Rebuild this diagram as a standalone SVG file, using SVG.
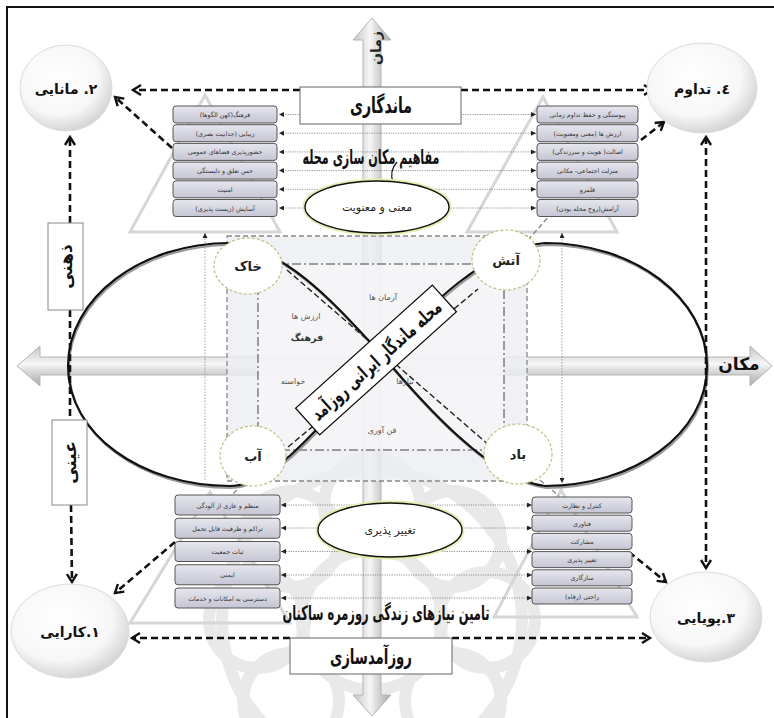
<svg xmlns="http://www.w3.org/2000/svg" width="774" height="718" viewBox="0 0 774 718">
<defs>
<style>
.fa{font-family:"DejaVu Sans",sans-serif;direction:rtl;unicode-bidi:embed;text-anchor:middle}
.bx{fill:url(#boxG);stroke:#555;stroke-width:1}
.bt{font-size:6.3px;fill:#333}
.dot{stroke:#777;stroke-width:0.8;stroke-dasharray:1.2 1.2;fill:none;marker-start:url(#tri);marker-end:url(#tri)}
.thick{stroke:#111;stroke-width:2.6;stroke-dasharray:7 4;fill:none}
.gdash{stroke:#888;stroke-width:1.3;stroke-dasharray:5 3;fill:none}
.elem{fill:#fff;stroke:#b9c47c;stroke-width:1.2;stroke-dasharray:3 2}
.et{font-size:13px;font-weight:bold;fill:#222}
.node{fill:url(#sphere);stroke:#dcdcdc;stroke-width:1}
.nt{font-size:14px;font-weight:bold;fill:#111}
.ct{font-size:8px;fill:#555}
.tri{fill:none;stroke:#d6d6d6;stroke-width:3}
.lobe{fill:none}
</style>
<linearGradient id="hA" x1="0" y1="0" x2="0" y2="1">
<stop offset="0" stop-color="#c4c4c4"/><stop offset="0.45" stop-color="#f6f6f6"/><stop offset="0.6" stop-color="#dedede"/><stop offset="1" stop-color="#a9a9a9"/>
</linearGradient>
<linearGradient id="vA" x1="0" y1="0" x2="1" y2="0">
<stop offset="0" stop-color="#c4c4c4"/><stop offset="0.45" stop-color="#f6f6f6"/><stop offset="0.6" stop-color="#dedede"/><stop offset="1" stop-color="#a9a9a9"/>
</linearGradient>
<radialGradient id="sphere" cx="0.42" cy="0.38" r="0.62">
<stop offset="0" stop-color="#ffffff"/><stop offset="0.7" stop-color="#f7f7f7"/><stop offset="1" stop-color="#d6d6d6"/>
</radialGradient>
<linearGradient id="boxG" x1="0" y1="0" x2="0" y2="1">
<stop offset="0" stop-color="#e6e6ee"/><stop offset="1" stop-color="#c6c6d4"/>
</linearGradient>
<marker id="tri" viewBox="0 0 6 6" refX="6" refY="3" markerWidth="5" markerHeight="5" markerUnits="userSpaceOnUse" orient="auto-start-reverse">
<path d="M0,0 L6,3 L0,6 Z" fill="#222"/>
</marker>
<marker id="chev" viewBox="-2 -2 14 14" refX="8" refY="5" markerWidth="14" markerHeight="14" markerUnits="userSpaceOnUse" orient="auto-start-reverse">
<path d="M0,0 L8,5 L0,10" fill="none" stroke="#111" stroke-width="2.4"/>
</marker>
<path id="eight" d="M383,356 C340,310 290,250 230,243 C141,243 68,298 68,366 C68,434 141,486 230,486 C280,486 340,400 383,356 Z M383,356 C426,310 480,250 545,243 C634,243 707,298 707,366 C707,434 634,486 545,486 C490,480 420,400 383,356 Z"/>
</defs>

<rect x="0" y="0" width="774" height="718" fill="#fff"/>

<g id="watermark" fill="none" stroke="#e9e9e9" stroke-width="12">
<circle cx="372" cy="620" r="150"/>
<circle cx="372" cy="620" r="70"/>
<circle cx="372" cy="505" r="48"/>
<circle cx="453" cy="539" r="48"/>
<circle cx="487" cy="620" r="48"/>
<circle cx="291" cy="539" r="48"/>
<circle cx="257" cy="620" r="48"/>
<circle cx="453" cy="701" r="48"/>
<circle cx="291" cy="701" r="48"/>
</g>

<g id="triangles">
<polygon class="tri" points="205,95 280,232 130,232"/>
<polygon class="tri" points="543,97 617,232 467,232"/>
<polygon class="tri" points="210,492 290,623 130,623"/>
<polygon class="tri" points="561,490 637,617 494,617"/>
</g>

<g id="axes">
<path d="M17,366 L40,346 L40,357 L750,357 L750,346 L772,366 L750,386 L750,375 L40,375 L40,386 Z" fill="url(#hA)" stroke="#b5b5b5" stroke-width="1"/>
<path d="M372,18 L391,40 L381,40 L381,695 L391,695 L372,716 L353,695 L363,695 L363,40 L353,40 Z" fill="url(#vA)" stroke="#b5b5b5" stroke-width="1"/>
<text class="fa" transform="translate(376,48) rotate(-90)" font-size="14" font-weight="bold" fill="#222" y="5">زمان</text>
<text class="fa" x="739" y="370" font-size="17" font-weight="bold" fill="#111">مکان</text>
</g>

<g id="panel">
<rect x="227" y="236" width="300" height="245" fill="#eceef1" opacity="0.8"/>
<rect x="258" y="264" width="246" height="186" fill="#f6f7f8" opacity="0.7"/>
<rect x="227" y="236" width="300" height="245" class="gdash"/>
<rect x="258" y="264" width="246" height="186" fill="none" stroke="#444" stroke-width="1" stroke-dasharray="9 3 2 3"/>
</g>

<g id="connectors">
<line x1="205" y1="480" x2="205" y2="233" stroke="#888" stroke-width="0.8" stroke-dasharray="1.5 1.5" marker-end="url(#tri)"/>
<line x1="562" y1="233" x2="562" y2="483" stroke="#888" stroke-width="0.8" stroke-dasharray="1.5 1.5" marker-start="url(#tri)" marker-end="url(#tri)"/>
<line class="dot" x1="536" y1="114.5" x2="279" y2="114.5"/>
<line class="dot" x1="536" y1="133.2" x2="279" y2="133.2"/>
<line class="dot" x1="536" y1="151.9" x2="279" y2="151.9"/>
<line class="dot" x1="536" y1="170.6" x2="279" y2="170.6"/>
<line class="dot" x1="536" y1="189.3" x2="279" y2="189.3"/>
<line class="dot" x1="536" y1="208" x2="279" y2="208"/>
<line class="dot" x1="532" y1="505" x2="281" y2="505"/>
<line class="dot" x1="532" y1="528" x2="281" y2="528"/>
<line class="dot" x1="532" y1="551.5" x2="281" y2="551.5"/>
<line class="dot" x1="532" y1="575" x2="281" y2="575"/>
<line class="dot" x1="532" y1="598" x2="281" y2="598"/>
<line class="gdash" x1="528" y1="240" x2="551" y2="214"/>
<line class="gdash" x1="540" y1="480" x2="559" y2="496"/>
<line class="gdash" x1="242" y1="484" x2="233" y2="494"/>
<use href="#eight" class="lobe" stroke="#999" stroke-width="2" transform="translate(1,2)"/>
<use href="#eight" class="lobe" stroke="#111" stroke-width="2.2"/>
<line x1="287" y1="270" x2="490" y2="446" stroke="#222" stroke-width="1.4" stroke-dasharray="6 3"/>
<line x1="288" y1="447" x2="478" y2="289" stroke="#222" stroke-width="1.4" stroke-dasharray="6 3"/>
<line class="thick" x1="300" y1="90" x2="133" y2="90" marker-end="url(#chev)"/>
<line class="thick" x1="461" y1="90" x2="652" y2="90" marker-end="url(#chev)"/>
<line class="thick" x1="290" y1="638" x2="132" y2="638" marker-end="url(#chev)"/>
<line class="thick" x1="452" y1="638" x2="650" y2="638" marker-end="url(#chev)"/>
<line class="thick" x1="70" y1="223" x2="70" y2="137" marker-end="url(#chev)"/>
<line class="thick" x1="70" y1="310" x2="70" y2="420"/>
<line class="thick" x1="71" y1="505" x2="72" y2="582" marker-end="url(#chev)"/>
<line class="thick" x1="706" y1="137" x2="706" y2="568" marker-start="url(#chev)" marker-end="url(#chev)"/>
<line class="thick" x1="172" y1="148" x2="115" y2="97" marker-end="url(#chev)"/>
<line class="thick" x1="641" y1="140" x2="664" y2="122" marker-end="url(#chev)"/>
<line class="thick" x1="175" y1="542" x2="115" y2="593" marker-end="url(#chev)"/>
<line class="thick" x1="629" y1="552" x2="666" y2="582" marker-end="url(#chev)"/>
<path d="M397,162 Q389,171 393,182" fill="none" stroke="#111" stroke-width="1.2"/>
</g>

<g id="center-texts">
<text class="fa ct" x="383" y="300">آرمان ها</text>
<text class="fa ct" x="306" y="319">ارزش ها</text>
<text class="fa" x="307" y="341" font-size="9.5" font-weight="bold" fill="#333">فرهنگ</text>
<text class="fa ct" x="293" y="384">خواسته</text>
<text class="fa ct" x="405" y="384">نیازها</text>
<text class="fa ct" x="382" y="433">فن آوری</text>
</g>

<g id="center-label" transform="translate(376,360) rotate(-42)">
<rect x="-92" y="-18" width="184" height="36" fill="#fff" stroke="#111" stroke-width="1.3"/>
<text class="fa" y="7" font-size="19" font-weight="bold" fill="#111" textLength="168" lengthAdjust="spacingAndGlyphs">محله ماندگار ایرانی روزآمد</text>
</g>

<g id="khak"><ellipse class="elem" cx="248" cy="266" rx="34" ry="28"/><text class="fa et" x="248" y="271">خاک</text></g>
<g id="atash"><ellipse class="elem" cx="506" cy="260" rx="34" ry="30"/><text class="fa et" x="506" y="265">آتش</text></g>
<g id="ab"><ellipse class="elem" cx="253" cy="456" rx="33" ry="30"/><text class="fa et" x="253" y="461">آب</text></g>
<g id="bad"><ellipse class="elem" cx="518" cy="454" rx="34" ry="30"/><text class="fa et" x="518" y="459">باد</text></g>

<g id="list-top-left">
<rect class="bx" x="173" y="106" width="104" height="17" rx="3"/><text class="fa bt" x="225" y="117">فرهنگ(کهن الگوها)</text>
<rect class="bx" x="173" y="124.7" width="104" height="17" rx="3"/><text class="fa bt" x="225" y="135.7">زیبایی (جذابیت بصری)</text>
<rect class="bx" x="173" y="143.4" width="104" height="17" rx="3"/><text class="fa bt" x="225" y="154.4">حضورپذیری فضاهای عمومی</text>
<rect class="bx" x="173" y="162.1" width="104" height="17" rx="3"/><text class="fa bt" x="225" y="173.1">حس تعلق و دلبستگی</text>
<rect class="bx" x="173" y="180.8" width="104" height="17" rx="3"/><text class="fa bt" x="225" y="191.8">امنیت</text>
<rect class="bx" x="173" y="199.5" width="104" height="17" rx="3"/><text class="fa bt" x="225" y="210.5">آسایش (زیست پذیری)</text>
</g>

<g id="list-top-right">
<rect class="bx" x="537" y="106" width="101" height="17" rx="3"/><text class="fa bt" x="587.5" y="117">پیوستگی و حفظ تداوم زمانی</text>
<rect class="bx" x="537" y="124.7" width="101" height="17" rx="3"/><text class="fa bt" x="587.5" y="135.7">ارزش ها (معنی ومعنویت)</text>
<rect class="bx" x="537" y="143.4" width="101" height="17" rx="3"/><text class="fa bt" x="587.5" y="154.4">اصالت( هویت و سرزندگی)</text>
<rect class="bx" x="537" y="162.1" width="101" height="17" rx="3"/><text class="fa bt" x="587.5" y="173.1">منزلت اجتماعی- مکانی</text>
<rect class="bx" x="537" y="180.8" width="101" height="17" rx="3"/><text class="fa bt" x="587.5" y="191.8">قلمرو</text>
<rect class="bx" x="537" y="199.5" width="101" height="17" rx="3"/><text class="fa bt" x="587.5" y="210.5">آرامش(روح محله بودن)</text>
</g>

<g id="list-bottom-left">
<rect class="bx" x="175" y="495" width="105" height="20" rx="3"/><text class="fa bt" x="227.5" y="507.5">منظم و عاری از آلودگی</text>
<rect class="bx" x="175" y="518.25" width="105" height="20" rx="3"/><text class="fa bt" x="227.5" y="530.75">تراکم و ظرفیت قابل تحمل</text>
<rect class="bx" x="175" y="541.5" width="105" height="20" rx="3"/><text class="fa bt" x="227.5" y="554">ثبات جمعیت</text>
<rect class="bx" x="175" y="564.75" width="105" height="20" rx="3"/><text class="fa bt" x="227.5" y="577.25">ایمنی</text>
<rect class="bx" x="175" y="588" width="105" height="20" rx="3"/><text class="fa bt" x="227.5" y="600.5">دسترسی به امکانات و خدمات</text>
</g>

<g id="list-bottom-right">
<rect class="bx" x="532" y="497" width="100" height="16" rx="3"/><text class="fa bt" x="582" y="507.5">کنترل و نظارت</text>
<rect class="bx" x="532" y="515.2" width="100" height="16" rx="3"/><text class="fa bt" x="582" y="525.7">فناوری</text>
<rect class="bx" x="532" y="533.4" width="100" height="16" rx="3"/><text class="fa bt" x="582" y="543.9">مشارکت</text>
<rect class="bx" x="532" y="551.6" width="100" height="16" rx="3"/><text class="fa bt" x="582" y="562.1">تغییر پذیری</text>
<rect class="bx" x="532" y="569.8" width="100" height="16" rx="3"/><text class="fa bt" x="582" y="580.3">سازگاری</text>
<rect class="bx" x="532" y="588" width="100" height="16" rx="3"/><text class="fa bt" x="582" y="598.5">راحتی (رفاه)</text>
</g>

<g id="mana-box">
<rect x="300" y="87" width="161" height="37" fill="#fff" stroke="#666" stroke-width="1"/>
<text class="fa" x="381" y="113" font-size="22" font-weight="bold" fill="#111" textLength="62" lengthAdjust="spacingAndGlyphs">ماندگاری</text>
</g>
<g id="title-top"><text class="fa" x="371" y="164" font-size="20" font-weight="bold" fill="#111" textLength="137" lengthAdjust="spacingAndGlyphs">مفاهیم مکان سازی محله</text></g>
<g id="maana">
<ellipse cx="377" cy="207" rx="72" ry="26" fill="#fff" stroke="#e1eeac" stroke-width="5"/>
<ellipse cx="377" cy="207" rx="72" ry="26" fill="#fff" stroke="#111" stroke-width="1.4"/>
<text class="fa" x="377" y="211" font-size="11" fill="#222">معنی و معنویت</text>
</g>
<g id="taghir">
<ellipse cx="390" cy="530" rx="72" ry="27" fill="#fff" stroke="#e1eeac" stroke-width="5"/>
<ellipse cx="390" cy="530" rx="72" ry="27" fill="#fff" stroke="#111" stroke-width="1.4"/>
<text class="fa" x="390" y="534" font-size="11" fill="#222">تغییر پذیری</text>
</g>
<g id="title-bottom"><text class="fa" x="386" y="620" font-size="20" font-weight="bold" fill="#111" textLength="207" lengthAdjust="spacingAndGlyphs">تامین نیازهای زندگی روزمره ساکنان</text></g>
<g id="rooz-box">
<rect x="290" y="638" width="162" height="36" fill="#fff" stroke="#666" stroke-width="1"/>
<text class="fa" x="371" y="664" font-size="21" font-weight="bold" fill="#111" textLength="82" lengthAdjust="spacingAndGlyphs">روزآمدسازی</text>
</g>

<g id="zehni"><rect x="48" y="223" width="35" height="87" fill="#fff" stroke="#888" stroke-width="1"/><text class="fa" transform="translate(65.5,266.5) rotate(-90)" y="6" font-size="17" font-weight="bold" fill="#111">ذهنی</text></g>
<g id="eyni"><rect x="52" y="420" width="35" height="85" fill="#fff" stroke="#888" stroke-width="1"/><text class="fa" transform="translate(69.5,462.5) rotate(-90)" y="6" font-size="17" font-weight="bold" fill="#111">عینی</text></g>

<g id="node-2"><ellipse class="node" cx="66" cy="88" rx="46" ry="43"/><text class="fa nt" x="66" y="94">۲. مانایی</text></g>
<g id="node-4"><ellipse class="node" cx="702" cy="88" rx="55" ry="45"/><text class="fa nt" x="702" y="94">٤. تداوم</text></g>
<g id="node-1"><ellipse class="node" cx="70" cy="631" rx="59" ry="47"/><text class="fa nt" x="70" y="637">۱.کارایی</text></g>
<g id="node-3"><ellipse class="node" cx="706" cy="617" rx="56" ry="45"/><text class="fa nt" x="706" y="623">۳.پویایی</text></g>

<rect x="7" y="7" width="780" height="730" fill="none" stroke="#111" stroke-width="2"/>
</svg>
